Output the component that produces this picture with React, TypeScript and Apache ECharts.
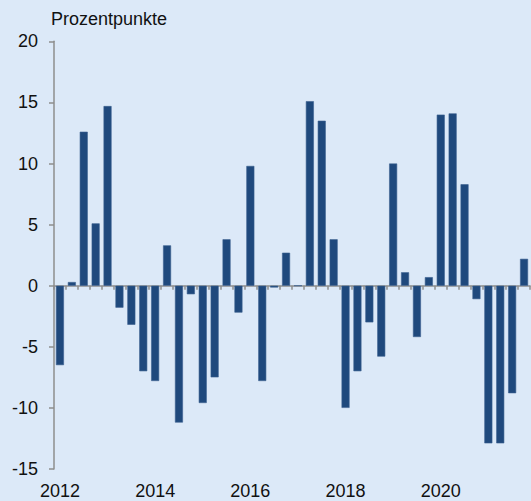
import React, { useEffect, useRef } from "react";
import * as echarts from "echarts";

const years = [2012, 2013, 2014, 2015, 2016, 2017, 2018, 2019, 2020, 2021];
const quarters = ["Q1", "Q2", "Q3", "Q4"];
const categories: string[] = years.flatMap((y) => quarters.map((q) => `${y} ${q}`));

const values: number[] = [
  -6.5, 0.3, 12.6, 5.1,
  14.7, -1.8, -3.2, -7.0,
  -7.8, 3.3, -11.2, -0.7,
  -9.6, -7.5, 3.8, -2.2,
  9.8, -7.8, -0.15, 2.7,
  0.0, 15.1, 13.5, 3.8,
  -10.0, -7.0, -3.0, -5.8,
  10.0, 1.1, -4.2, 0.7,
  14.0, 14.1, 8.3, -1.1,
  -12.9, -12.9, -8.8, 2.2,
];

const yTicks = { min: -15, max: 20, interval: 5 };
const unitLabel = "Prozentpunkte";

const FONT = "Liberation Sans, Arial, Helvetica, sans-serif";
const AXIS_GREY = "#8e8e8e";

export default function App() {
  const ref = useRef<HTMLDivElement>(null);
  useEffect(() => {
    if (!ref.current) return;
    const chart = echarts.init(ref.current, undefined, { renderer: "svg" });
    chart.setOption({
      animation: false,
      backgroundColor: "#dce9f8",
      textStyle: { fontFamily: FONT },
      title: {
        text: unitLabel,
        left: 51,
        top: 10,
        padding: 0,
        textStyle: { fontSize: 18, fontWeight: "normal", color: "#111", fontFamily: FONT },
      },
      grid: { left: 54, right: 1, top: 41.3, bottom: 32 },
      xAxis: [
        {
          type: "category",
          data: categories,
          position: "bottom",
          axisLine: { show: false, onZero: false },
          axisTick: { show: false },
          splitLine: { show: false },
          axisLabel: {
            interval: 7,
            margin: 13,
            fontSize: 18,
            color: "#111",
            fontFamily: FONT,
            formatter: (v: string) => v.slice(0, 4),
          },
        },
        {
          type: "category",
          data: categories,
          position: "bottom",
          axisLine: { show: true, onZero: true, lineStyle: { color: AXIS_GREY, width: 1.5 } },
          axisTick: { show: true, interval: 0, length: 4, lineStyle: { color: AXIS_GREY, width: 1.5 } },
          axisLabel: { show: false },
          splitLine: { show: false },
        },
      ],
      yAxis: {
        type: "value",
        min: yTicks.min,
        max: yTicks.max,
        interval: yTicks.interval,
        axisLine: { show: true, lineStyle: { color: AXIS_GREY, width: 1.5 } },
        axisTick: { show: true, length: 5, lineStyle: { color: AXIS_GREY, width: 1.5 } },
        splitLine: { show: false },
        axisLabel: { fontSize: 18, color: "#111", margin: 16, fontFamily: FONT },
      },
      series: [
        {
          type: "bar",
          xAxisIndex: 0,
          data: values,
          barWidth: 8,
          itemStyle: { color: "#1f497d", borderColor: "#3a5f8f", borderWidth: 0.6 },
        },
      ],
    });
    return () => chart.dispose();
  }, []);
  return (
    <div
      ref={ref}
      style={{ position: "fixed", left: 0, top: 0, width: 531, height: 501 }}
    />
  );
}
